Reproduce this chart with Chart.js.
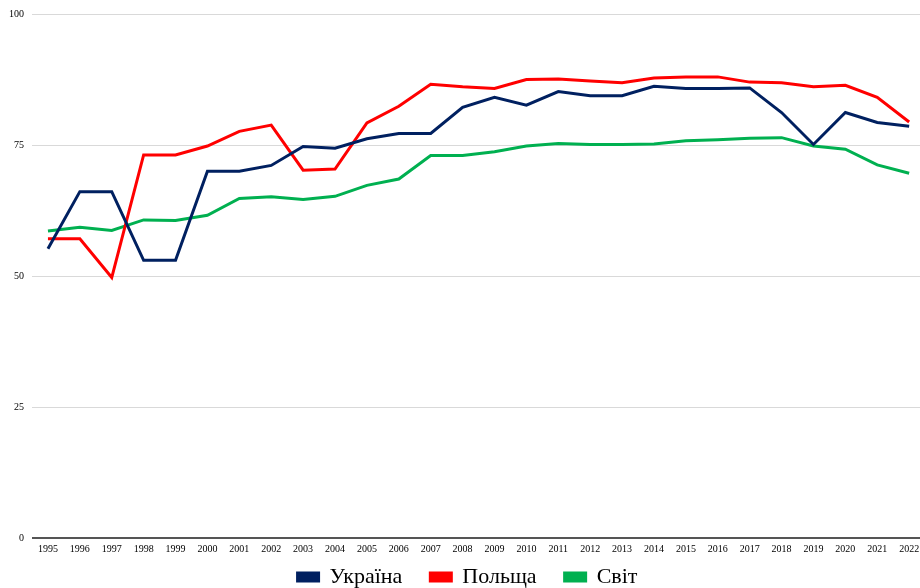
<!DOCTYPE html>
<html><head><meta charset="utf-8">
<script src="https://cdn.jsdelivr.net/npm/chart.js@4.4.0/dist/chart.umd.min.js"></script>
<style>html,body{margin:0;padding:0;background:#fff;}canvas{display:block;}</style>
</head><body>
<canvas id="c" width="920" height="588"></canvas>
<script>
const years = [1995,1996,1997,1998,1999,2000,2001,2002,2003,2004,2005,2006,2007,2008,2009,2010,2011,2012,2013,2014,2015,2016,2017,2018,2019,2020,2021,2022];
const ukraine = [55.2,66.1,66.1,53.0,53.0,70.0,70.0,71.1,74.7,74.4,76.2,77.2,77.2,82.2,84.1,82.6,85.2,84.4,84.4,86.2,85.8,85.8,85.9,81.2,75.1,81.2,79.3,78.6];
const poland = [57.1,57.1,49.7,73.1,73.1,74.8,77.6,78.8,70.2,70.4,79.2,82.4,86.6,86.1,85.8,87.5,87.6,87.2,86.9,87.8,88.0,88.0,87.0,86.9,86.1,86.4,84.1,79.4];
const world = [58.6,59.3,58.7,60.7,60.6,61.6,64.8,65.1,64.6,65.2,67.3,68.5,73.0,73.0,73.7,74.8,75.3,75.1,75.1,75.2,75.8,76.0,76.3,76.4,74.8,74.2,71.2,69.6];
const yTicks = [0,25,50,75,100];
const seriesNames = ['Україна','Польща','Світ'];

const toPts = arr => arr.map((v,i)=>({x:years[i], y:v}));
const font = 'Liberation Serif';

const legendShift = {
  id:'legendShift',
  afterLayout(chart){ if(chart.legend){ chart.legend.left += 7; chart.legend.right += 7; } }
};

new Chart(document.getElementById('c'), {
  type: 'line',
  data: {
    datasets: [
      {label: seriesNames[0], data: toPts(ukraine), borderColor:'#002060', backgroundColor:'#002060', borderWidth:3, pointRadius:0, tension:0},
      {label: seriesNames[1], data: toPts(poland), borderColor:'#ff0000', backgroundColor:'#ff0000', borderWidth:3, pointRadius:0, tension:0},
      {label: seriesNames[2], data: toPts(world), borderColor:'#00b050', backgroundColor:'#00b050', borderWidth:3, pointRadius:0, tension:0}
    ]
  },
  plugins:[legendShift],
  options: {
    responsive:false, animation:false,
    layout:{padding:{top:8,left:1,right:0,bottom:-10}},
    plugins:{
      tooltip:{enabled:false},
      legend:{position:'bottom', labels:{font:{family:font,size:22}, color:'#000', boxWidth:21, boxHeight:8, padding:6,
        generateLabels: ch => {
          const items = Chart.defaults.plugins.legend.labels.generateLabels(ch);
          items.forEach((it,i)=>{ if(i < items.length-1) it.text = it.text + '\u2003'; });
          return items;
        }}}
    },
    scales:{
      x:{type:'linear', min:1994.5, max:2022.34,
        afterBuildTicks: s => { s.ticks = years.map(v=>({value:v})); },
        afterFit: s => { s.paddingLeft = 0; s.paddingRight = 0; },
        grid:{display:false, drawTicks:false}, border:{display:false},
        ticks:{autoSkip:false, maxRotation:0, font:{family:font,size:10}, color:'#000', padding:5, callback:v=>String(v)}
      },
      y:{min:0, max:100,
        afterBuildTicks: s => { s.ticks = yTicks.map(v=>({value:v})); },
        grid:{color: c => c.tick && c.tick.value===0 ? '#555' : '#d9d9d9', lineWidth: c => c.tick && c.tick.value===0 ? 2 : 1, drawTicks:false},
        border:{display:false},
        ticks:{font:{family:font,size:10}, color:'#000', padding:8}
      }
    }
  }
});
</script>
</body></html>
